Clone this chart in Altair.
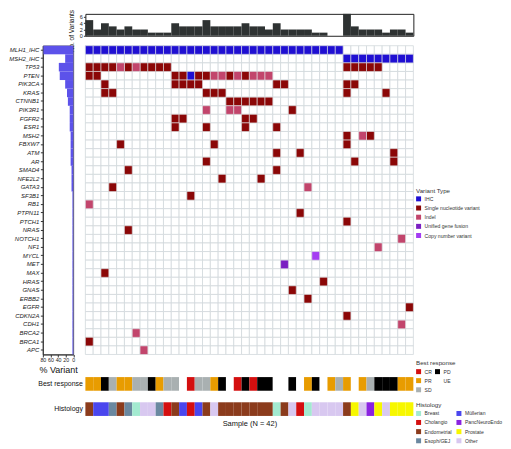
import altair as alt
import pandas as pd

# ---------------- data ----------------
genes = ["MLH1_IHC", "MSH2_IHC", "TP53", "PTEN", "PIK3CA", "KRAS", "CTNNB1", "PIK3R1",
         "FGFR2", "ESR1", "MSH2", "FBXW7", "ATM", "AR", "SMAD4", "NFE2L2", "GATA3",
         "SF3B1", "RB1", "PTPN11", "PTCH1", "NRAS", "NOTCH1", "NF1", "MYCL", "MET",
         "MAX", "HRAS", "GNAS", "ERBB2", "EGFR", "CDKN2A", "CDH1", "BRCA2", "BRCA1", "APC"]
samples = list(range(1, 43))

ihc_cells = {"MLH1_IHC": list(range(1, 34)), "MSH2_IHC": list(range(34, 43)), "PTEN": [14]}
snv_cells = {
    "TP53": [1, 2, 3, 4, 6, 8, 9, 10, 11, 34, 35, 36, 37, 38],
    "PTEN": [1, 2, 12, 13, 15, 16, 19, 21],
    "PIK3CA": [3, 12, 13, 14, 15, 25, 26, 34, 35],
    "KRAS": [3, 4, 16, 17, 18, 34, 39],
    "CTNNB1": [19, 20, 21, 22, 23, 24],
    "PIK3R1": [27],
    "FGFR2": [12, 13, 21, 22],
    "ESR1": [12, 16, 21, 25],
    "MSH2": [34, 37],
    "FBXW7": [5, 17, 34],
    "ATM": [25, 28, 40],
    "AR": [16, 35, 40],
    "SMAD4": [6, 25],
    "NFE2L2": [18, 23],
    "GATA3": [4],
    "SF3B1": [14],
    "PTPN11": [28],
    "PTCH1": [34],
    "NRAS": [6],
    "MAX": [3],
    "HRAS": [31],
    "GNAS": [27],
    "ERBB2": [29],
    "EGFR": [42],
    "CDKN2A": [34],
    "BRCA1": [1],
}
indel_cells = {
    "TP53": [5, 7],
    "PTEN": [17, 18, 20, 22, 23, 24],
    "PIK3R1": [16, 19, 20],
    "MSH2": [36],
    "GATA3": [29],
    "RB1": [1],
    "NOTCH1": [41],
    "NF1": [38],
    "CDH1": [41],
    "BRCA2": [7],
    "APC": [8],
}
fusion_cells = {"MET": [26]}
cnv_cells = {"MYCL": [30]}

variants_per_sample = [5, 2, 4, 3, 2, 3, 2, 2, 1, 1, 1, 4, 3, 3, 3, 5, 3, 3, 3, 3, 4,
                       3, 3, 2, 4, 2, 2, 2, 2, 1, 1, 0, 0, 7, 3, 2, 2, 2, 1, 2, 2, 1]

best_response = ["PR", "PR", "PD", "SD", "PR", "PR", "SD", "SD", "PD", "PR", "SD", "SD",
                 "UE", "CR", "SD", "SD", "PR", "PD", "UE", "CR", "PD", "CR", "PD", "PD",
                 "UE", "UE", "PD", "UE", "PR", "PD", "UE", "PR", "SD", "PR", "UE", "PR",
                 "SD", "PD", "PD", "PD", "PR", "PR"]
histology = ["Endometrial", "Müllerian", "Müllerian", "Esoph/GEJ", "Endometrial", "Esoph/GEJ",
             "Breast", "Other", "Other", "Esoph/GEJ", "Cholangio", "Endometrial", "Müllerian",
             "Cholangio", "Müllerian", "Endometrial", "Other", "Endometrial", "Endometrial",
             "Endometrial", "Endometrial", "Endometrial", "Endometrial", "Endometrial", "Breast",
             "Endometrial", "Other", "Cholangio", "Breast", "Other", "Other", "Other", "Other",
             "Endometrial", "Prostate", "Other", "PancNeuroEndo", "Prostate", "Other",
             "Prostate", "Prostate", "Prostate"]

variant_types = ["IHC", "Single nucleotide variant", "Indel", "Unified gene fusion", "Copy number variant"]
variant_colors = ["#1f0fd2", "#8b0707", "#c2456c", "#7a1fc2", "#a43cf2"]
# legend entries fill column by column
response_order = ["CR", "PR", "SD", "PD", "UE"]
response_colors = ["#d40f0f", "#e89c00", "#a9b0b1", "#000000", "#ffffff"]
histology_order = ["Breast", "Cholangio", "Endometrial", "Esoph/GEJ",
                   "Müllerian", "PancNeuroEndo", "Prostate", "Other"]
histology_colors = ["#a3ead0", "#d40f0f", "#8b3b1c", "#6a88a0",
                    "#4a46ee", "#8a22e0", "#f7f700", "#d8c8f0"]

# ---------------- tables ----------------
rows = []
for vtype, table in zip(variant_types, [ihc_cells, snv_cells, indel_cells, fusion_cells, cnv_cells]):
    for gene, idx in table.items():
        for s in idx:
            rows.append({"gene": gene, "sample": s, "type": vtype})
cells = pd.DataFrame(rows)
bg_df = pd.DataFrame([{"gene": g, "sample": s} for g in genes for s in samples])
counts = cells.groupby("gene")["sample"].nunique().reindex(genes, fill_value=0)
pct_df = pd.DataFrame({"gene": genes, "pct": counts.values / len(samples) * 100})
top_df = pd.DataFrame({"sample": samples, "n": variants_per_sample})
br_df = pd.DataFrame({"sample": samples, "row": "Best response", "response": best_response})
hist_df = pd.DataFrame({"sample": samples, "row": "Histology", "histology": histology})

# ---------------- geometry ----------------
GRID_W = 329.3
GRID_H = 310
LEFT_W = 30.6
TOP_H = 22
STRIP_H = 51.7

x_scale = alt.Scale(domain=samples, paddingInner=0, paddingOuter=0)
gene_scale = alt.Scale(domain=genes, paddingInner=0, paddingOuter=0)
no_stroke = alt.ViewBackground(stroke="transparent")

legend_common = dict(orient="none", symbolType="square", symbolSize=25, symbolStrokeWidth=0,
                     labelFontSize=5.1, titleFontSize=6.2, titleFontWeight="normal",
                     rowPadding=3.2, labelOffset=3.5, titlePadding=2.5, labelColor="#333",
                     titleColor="#333", legendX=332)

# ---------------- grid ----------------
bg = alt.Chart(bg_df).mark_rect(fill="white", stroke="#d2d8dc", strokeWidth=0.8).encode(
    x=alt.X("sample:O", scale=x_scale, axis=None),
    y=alt.Y("gene:N", scale=gene_scale, axis=None),
)
fg = alt.Chart(cells).mark_rect(stroke="#e2e5e8", strokeWidth=0.6).encode(
    x=alt.X("sample:O", scale=x_scale, axis=None),
    y=alt.Y("gene:N", scale=gene_scale, axis=None),
    color=alt.Color("type:N", scale=alt.Scale(domain=variant_types, range=variant_colors),
                    legend=alt.Legend(title="Variant Type", legendY=142.5, **legend_common)),
)
grid = alt.layer(bg, fg).properties(width=GRID_W, height=GRID_H, view=no_stroke)

# ---------------- left % bars ----------------
left = alt.Chart(pct_df).mark_bar(color="#5c52ea").encode(
    y=alt.Y("gene:N", scale=gene_scale,
            axis=alt.Axis(title=None, labelFontSize=6.0, labelFontStyle="italic", tickSize=2.5,
                          labelPadding=1.5, labelColor="#222", domainColor="#333", tickColor="#333")),
    x=alt.X("pct:Q", scale=alt.Scale(domain=[0, 80], reverse=True),
            axis=alt.Axis(values=[0, 20, 40, 60, 80], title="% Variant", titleFontSize=9,
                          titleFontWeight="normal", titleColor="#111", labelFontSize=5.3,
                          labelColor="#222", tickSize=2.5, grid=False, labelPadding=1,
                          labelOverlap=False, labelFlush=False,
                          titlePadding=2, domainColor="#333", tickColor="#333")),
).properties(width=LEFT_W, height=GRID_H, view=alt.ViewBackground(stroke="#333", strokeWidth=0.8))

# ---------------- top count bars ----------------
top = alt.Chart(top_df).mark_bar(color="#2e3232").encode(
    x=alt.X("sample:O", scale=x_scale, axis=None),
    y=alt.Y("n:Q", scale=alt.Scale(domain=[0, 7]),
            axis=alt.Axis(values=[0, 2, 4, 6], title="No. of Variants", titleFontSize=6.5,
                          titleFontWeight="normal", titleColor="#111", labelFontSize=5.5,
                          labelColor="#222", tickSize=2, grid=False, labelPadding=1,
                          labelOverlap=False, titlePadding=5, domain=False, tickColor="#333",
                          titleY=16.8)),
).properties(width=GRID_W, height=TOP_H, view=alt.ViewBackground(stroke="#222", strokeWidth=1))

# ---------------- strips ----------------
strip_x = alt.X("sample:O", scale=x_scale,
                axis=alt.Axis(title="Sample (N = 42)", labels=False, ticks=False, domain=False,
                              titleFontSize=7.5, titleFontWeight="normal", titleColor="#111",
                              titlePadding=4))
strip_y = alt.Y("row:N",
                scale=alt.Scale(domain=["Best response", "Histology"], paddingInner=0.458,
                                paddingOuter=0.251, align=1),
                axis=alt.Axis(title=None, ticks=False, domain=False, labelFontSize=7,
                              labelPadding=3, labelColor="#111"))
br = alt.Chart(br_df).mark_rect().encode(
    x=strip_x, y=strip_y,
    color=alt.Color("response:N", scale=alt.Scale(domain=response_order, range=response_colors),
                    legend=alt.Legend(title="Best response", columns=2, columnPadding=3,
                                      legendY=-4.2, **legend_common)),
)
hs = alt.Chart(hist_df).mark_rect().encode(
    x=strip_x, y=strip_y,
    color=alt.Color("histology:N", scale=alt.Scale(domain=histology_order, range=histology_colors),
                    legend=alt.Legend(title="Histology", columns=2, columnPadding=4.5,
                                      legendY=37.8, **legend_common)),
)
strips = alt.layer(br, hs).resolve_scale(color="independent").properties(
    width=GRID_W, height=STRIP_H, view=no_stroke)

# ---------------- blanks ----------------
blank_df = pd.DataFrame({"v": [0]})


def blank(h):
    return alt.Chart(blank_df).mark_point(opacity=0, size=1).encode(
        x=alt.X("v:Q", axis=None, scale=alt.Scale(domain=[0, 1])),
        y=alt.Y("v:Q", axis=None, scale=alt.Scale(domain=[0, 1]))
    ).properties(width=LEFT_W, height=h, view=no_stroke)


chart = alt.concat(
    blank(TOP_H), top,
    left, grid,
    blank(STRIP_H), strips,
    columns=2, spacing={"row": 10, "column": 11.7}, bounds="flush", align="each",
).resolve_scale(color="independent").properties(
    padding={"left": 0, "top": 0, "right": 0, "bottom": 0}
).configure(font="Liberation Sans").configure_view(strokeWidth=0)

chart.save("out.html", embed_options={"renderer": "svg", "actions": False})
